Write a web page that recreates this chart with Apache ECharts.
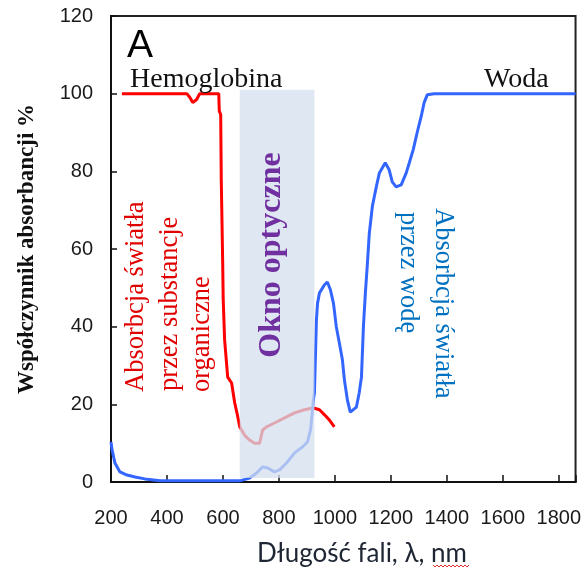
<!DOCTYPE html>
<html>
<head>
<meta charset="utf-8">
<script src="https://cdn.jsdelivr.net/npm/echarts@6/dist/echarts.min.js"></script>
<style>
html,body{margin:0;padding:0;background:#fff;}
#chart{width:584px;height:569px;}
</style>
</head>
<body>
<div id="chart"></div>
<script>
// Hemoglobin absorption (red)
const hemoWavelength = [239, 471, 482, 492, 506, 517, 585, 587, 592, 594, 599, 601, 606, 617, 631, 642, 653, 660, 678, 695, 713, 731, 742, 756, 784, 820, 856, 891, 916, 927, 945, 963, 980, 998];
const hemoAbsorption = [100, 100, 99, 97.7, 98.5, 100, 100, 95.5, 94.6, 78, 57, 47, 36.6, 27, 25.5, 20.4, 16.8, 14.2, 12, 10.8, 10, 10, 13.4, 14.2, 15.2, 16.5, 17.8, 18.6, 19, 19, 18.6, 17.3, 16, 14.2];
// Water absorption (blue)
const waterWavelength = [200, 204, 214, 232, 257, 286, 321, 375, 660, 695, 720, 742, 760, 784, 802, 827, 856, 884, 902, 913, 920, 923, 927, 934, 938, 945, 963, 973, 984, 995, 1005, 1016, 1027, 1034, 1045, 1055, 1062, 1077, 1087, 1095, 1102, 1109, 1116, 1123, 1134, 1148, 1159, 1180, 1194, 1205, 1219, 1237, 1255, 1266, 1280, 1294, 1308, 1319, 1330, 1355, 1860];
const waterAbsorption = [10.3, 8.2, 4.9, 2.6, 1.8, 1.3, 0.8, 0.3, 0.3, 1, 2.3, 3.9, 3.6, 2.6, 3.1, 4.9, 7.5, 9, 10.3, 13.4, 18.6, 21, 23, 41.7, 46, 48.7, 50.8, 51.5, 49.5, 46, 40, 35.8, 31.4, 26.3, 21, 18, 18, 19.3, 23, 27, 40, 48.7, 56, 64, 71, 76, 79.6, 82.2, 80.4, 77.3, 76, 76.5, 79.6, 82.2, 85.6, 90, 94, 97.7, 99.7, 100, 100];
// Optical window
const windowRange = [660, 927];
const windowLevels = [1, 101];
// Axes
const xMin = 200, xMax = 1860, xStep = 200;
const yMin = 0, yMax = 120, yStep = 20;

const hemoData = hemoWavelength.map((w, i) => [w, hemoAbsorption[i]]);
const waterData = waterWavelength.map((w, i) => [w, waterAbsorption[i]]);

const tickFont = '"Liberation Sans", Arial, sans-serif';
const serif = '"Liberation Serif", "DejaVu Serif", serif';

const chart = echarts.init(document.getElementById('chart'), null, {renderer: 'canvas'});
chart.setOption({
  animation: false,
  backgroundColor: '#fff',
  grid: {left: 111, right: 7, top: 16, bottom: 87, show: true, borderColor: '#222', borderWidth: 2, backgroundColor: 'transparent'},
  xAxis: {
    type: 'value', min: xMin, max: xMax, interval: xStep,
    axisLine: {show: true, lineStyle: {color: '#111', width: 2}},
    axisTick: {show: true, inside: true, length: 7, lineStyle: {color: '#111', width: 1.5}},
    splitLine: {show: false},
    axisLabel: {
      margin: 26, color: '#1a1a1a', fontSize: 20, fontFamily: tickFont,
      formatter: v => (v % xStep === 0 ? String(v) : '')
    }
  },
  yAxis: {
    type: 'value', min: yMin, max: yMax, interval: yStep,
    axisLine: {show: true, lineStyle: {color: '#111', width: 2}},
    axisTick: {show: true, inside: true, length: 6, lineStyle: {color: '#111', width: 1.5}},
    splitLine: {show: false},
    axisLabel: {margin: 18, color: '#1a1a1a', fontSize: 20, fontFamily: tickFont}
  },
  series: [
    {
      type: 'line', name: 'Hemoglobina', data: hemoData, showSymbol: false, symbol: 'none', z: 2,
      lineStyle: {color: '#ff0000', width: 3}
    },
    {
      type: 'line', name: 'Woda', data: waterData, showSymbol: false, symbol: 'none', z: 2,
      lineStyle: {color: '#3366ff', width: 3}
    },
    {
      type: 'line', name: 'Okno', data: [], z: 10,
      markArea: {
        silent: true, z: 10,
        itemStyle: {color: 'rgba(212,223,238,0.75)'},
        data: [[{coord: [windowRange[0], windowLevels[0]]}, {coord: [windowRange[1], windowLevels[1]]}]]
      }
    }
  ],
  graphic: [
    {type: 'text', x: 27, y: 249, rotation: Math.PI / 2, z: 20,
      style: {text: 'Współczynnik absorbancji %', font: 'bold 23px ' + serif, fill: '#111', align: 'center', verticalAlign: 'middle'}},
    {type: 'text', x: 362, y: 554, z: 20,
      style: {text: 'Długość fali, λ, nm', font: '26px Lato, "Open Sans", sans-serif', fill: '#1e2633', align: 'center', verticalAlign: 'middle'}},
    {type: 'polyline', z: 20, shape: {points: [[433,565],[435,567],[437,565],[439,567],[441,565],[443,567],[445,565],[447,567],[449,565],[451,567],[453,565],[455,567],[457,565],[459,567],[461,565],[463,567],[465,565],[467,567],[469,565]]},
      style: {stroke: '#e03030', lineWidth: 1, fill: null}},
    {type: 'text', x: 127, y: 46, z: 20,
      style: {text: 'A', font: '39px "Liberation Sans", Arial, sans-serif', fill: '#000', align: 'left', verticalAlign: 'middle'}},
    {type: 'text', x: 130, y: 80, z: 20,
      style: {text: 'Hemoglobina', font: '28px ' + serif, fill: '#111', align: 'left', verticalAlign: 'middle'}},
    {type: 'text', x: 484, y: 80, z: 20,
      style: {text: 'Woda', font: '28px ' + serif, fill: '#111', align: 'left', verticalAlign: 'middle'}},
    {type: 'text', x: 272, y: 255, rotation: Math.PI / 2, z: 20,
      style: {text: 'Okno optyczne', font: 'bold 32px ' + serif, fill: '#7030a0', align: 'center', verticalAlign: 'middle'}},
    {type: 'text', x: 136, y: 392, rotation: Math.PI / 2, z: 20,
      style: {text: 'Absorbcja światła', font: '26.5px ' + serif, fill: '#e00000', align: 'left', verticalAlign: 'middle'}},
    {type: 'text', x: 170, y: 391, rotation: Math.PI / 2, z: 20,
      style: {text: 'przez substancje', font: '26.5px ' + serif, fill: '#e00000', align: 'left', verticalAlign: 'middle'}},
    {type: 'text', x: 202, y: 392, rotation: Math.PI / 2, z: 20,
      style: {text: 'organiczne', font: '26.5px ' + serif, fill: '#e00000', align: 'left', verticalAlign: 'middle'}},
    {type: 'text', x: 443, y: 208, rotation: -Math.PI / 2, z: 20,
      style: {text: 'Absorbcja światła', font: '26.5px ' + serif, fill: '#0070c0', align: 'left', verticalAlign: 'middle'}},
    {type: 'text', x: 408, y: 212, rotation: -Math.PI / 2, z: 20,
      style: {text: 'przez wodę', font: '26.5px ' + serif, fill: '#0070c0', align: 'left', verticalAlign: 'middle'}}
  ]
});
</script>
</body>
</html>
